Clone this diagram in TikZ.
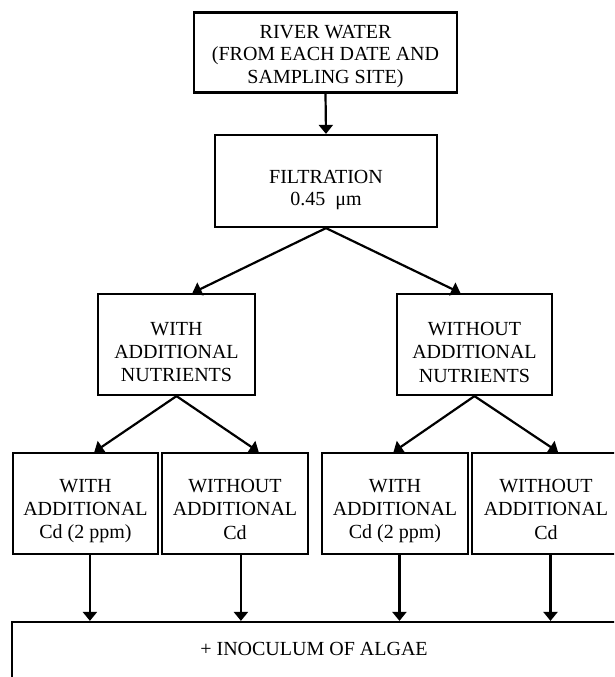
\documentclass[tikz,border=0pt]{standalone}
\usepackage{fontspec}
\setmainfont{Liberation Serif}
\usetikzlibrary{arrows.meta,calc}
\begin{document}
\begin{tikzpicture}[x=1pt,y=-1pt,
  box/.style={draw, line width=2.2pt, inner sep=0pt},
  txt/.style={anchor=north, align=center, inner sep=0pt,
    font=\fontsize{20}{23.3}\selectfont},
  arr/.style={line width=2.2pt, -{Triangle[length=9pt,width=14pt]}}]
\useasboundingbox (0,0) rectangle (614,677);
\clip (0,0) rectangle (614,677);
% boxes
\node[box, minimum width=263pt, minimum height=80pt] (top) at (325.5,52.5) {};
\node[box, minimum width=222pt, minimum height=92pt] (filt) at (326,181) {};
\node[box, minimum width=157pt, minimum height=101pt] (with) at (176.5,344.5) {};
\node[box, minimum width=155pt, minimum height=101pt] (without) at (474.5,344.5) {};
\node[box, minimum width=145pt, minimum height=101pt] (b1) at (85.5,503.5) {};
\node[box, minimum width=146pt, minimum height=101pt] (b2) at (235,503.5) {};
\node[box, minimum width=146pt, minimum height=101pt] (b3) at (395,503.5) {};
\node[box, minimum width=148pt, minimum height=101pt] (b4) at (546,503.5) {};
\node[box, minimum width=604pt, minimum height=68pt] (bot) at (314,656) {};
% texts
\node[txt, font=\fontsize{20}{22.5}\selectfont] (toptext) at (325.5,25)
  {RIVER WATER\\(FROM EACH DATE AND\\SAMPLING SITE)};
\node[txt, font=\fontsize{20}{22}\selectfont] (filttext) at (326,170)
  {FILTRATION\\0.45\enspace μm};
\node[txt] (withtext) at (176.5,322) {WITH\\ADDITIONAL\\NUTRIENTS};
\node[txt] (withouttext) at (474.5,322) {WITHOUT\\ADDITIONAL\\NUTRIENTS};
\node[txt] (b1text) at (85.5,479) {WITH\\ADDITIONAL\\Cd (2 ppm)};
\node[txt] (b2text) at (235,479) {WITHOUT\\ADDITIONAL\\Cd};
\node[txt] (b3text) at (395,479) {WITH\\ADDITIONAL\\Cd (2 ppm)};
\node[txt] (b4text) at (546,479) {WITHOUT\\ADDITIONAL\\Cd};
\node[txt] (bottext) at (314,642) {+ INOCULUM OF ALGAE};
% connectors
\draw[arr] (top.south) -- (filt.north);
\draw[arr] (filt.south) -- ($(with.north west)!0.6!(with.north east)$);
\draw[arr] (filt.south) -- ($(without.north west)!0.41!(without.north east)$);
\draw[arr] (with.south) -- ($(b1.north west)!0.56!(b1.north east)$);
\draw[arr] (with.south) -- ($(b2.north west)!0.66!(b2.north east)$);
\draw[arr] (without.south) -- ($(b3.north west)!0.49!(b3.north east)$);
\draw[arr] (without.south) -- ($(b4.north west)!0.58!(b4.north east)$);
\foreach \b/\f in {b1/0.53,b2/0.54,b3/0.53,b4/0.53}{
  \coordinate (\b s) at ($(\b.south west)!\f!(\b.south east)$);
  \draw[arr] (\b s) -- (\b s |- bot.north);
}
\end{tikzpicture}
\end{document}
